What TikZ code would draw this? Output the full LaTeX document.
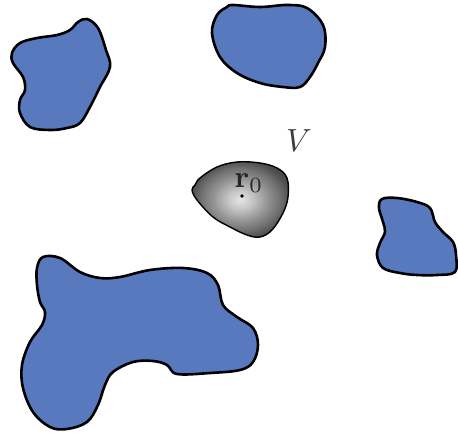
\documentclass[tikz,border=0pt]{standalone}
\usepackage{amsmath}
\definecolor{blobblue}{RGB}{89,121,190}
\definecolor{labelgray}{RGB}{60,60,60}
\pgfdeclareradialshading{coreshade}{\pgfpoint{0bp}{0bp}}{%
  color(0bp)=(black!10);
  color(6bp)=(black!22);
  color(14bp)=(black!42);
  color(20bp)=(black!55);
  color(25bp)=(black!68);
  color(32bp)=(black!80);
  color(50bp)=(black!80)}
\tikzset{
  blob/.style={draw=black, line width=2.6pt, fill=blobblue, line join=round},
  core/.style={shading=coreshade},
}
\begin{document}
\begin{tikzpicture}[x=1pt,y=-1pt]
\useasboundingbox (0,0) rectangle (458,436);
% top-left blob
\draw[blob] plot[smooth cycle, tension=0.6] coordinates {
 (87,19) (98,28) (106,50) (110,67) (100,87) (90,107) (80,123) (67,128) (50,130)
 (30,127) (20,113) (20,100) (25,90) (23,77) (13,63) (12,53) (20,43) (37,38)
 (57,35) (70,30) (78,22)};
% top-centre blob
\draw[blob] plot[smooth cycle, tension=0.6] coordinates {
 (233,5) (260,7) (287,5) (307,8) (323,25) (325,47) (318,63) (310,77) (300,87)
 (283,87) (260,83) (237,73) (220,57) (212,33) (217,15) (227,7)};
% right blob
\draw[blob] plot[smooth cycle, tension=0.6] coordinates {
 (382,199) (397,198) (417,202) (430,208) (435,222) (443,232) (453,242) (456,255)
 (455,272) (437,275) (417,275) (400,273) (383,268) (377,255) (380,243) (385,232)
 (383,222) (379,208)};
% bottom-left blob
\draw[blob] plot[smooth cycle, tension=0.6] coordinates {
 (43,257) (60,258) (80,272) (100,278) (120,277) (150,270) (183,268) (207,273)
 (218,285) (223,305) (237,317) (253,328) (258,345) (253,362) (240,370) (210,373)
 (177,374) (167,365) (153,361) (133,362) (113,372) (105,385) (98,405) (87,422)
 (67,429) (50,427) (33,412) (23,388) (22,365) (30,342) (42,325) (45,312) (40,302)
 (37,285) (37,268)};
% central region
\shade[core] plot[smooth cycle, tension=0.6] coordinates {
 (200,178) (217,167) (237,162) (260,163) (277,168) (287,178) (288,197) (283,213)
 (272,230) (260,237) (247,235) (230,227) (213,217) (197,200) (192,190) (195,185)};
\draw[line width=1.4pt] plot[smooth cycle, tension=0.6] coordinates {
 (200,178) (217,167) (237,162) (260,163) (277,168) (287,178) (288,197) (283,213)
 (272,230) (260,237) (247,235) (230,227) (213,217) (197,200) (192,190) (195,185)};
\node[inner sep=0pt, text=black!85, scale=3.1] (rzero) at (249,183) {$\mathbf{r}_0$};
\fill[black] (242,196) circle (1.8pt);
\node[inner sep=0pt, text=labelgray, scale=3.2] (vlabel) at (299,141) {$V$};
\end{tikzpicture}
\end{document}
